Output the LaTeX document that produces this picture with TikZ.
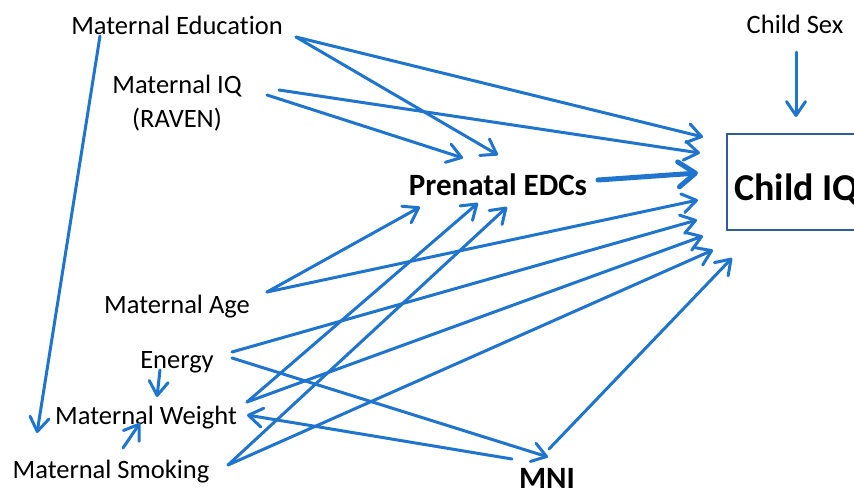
\documentclass[tikz,border=0pt]{standalone}
\usepackage{fontspec}
\setmainfont{Carlito}[Ligatures=NoCommon]
\usetikzlibrary{arrows.meta}
\definecolor{arrowblue}{RGB}{31,116,206}
\definecolor{boxblue}{RGB}{46,92,154}
\begin{document}
\begin{tikzpicture}[x=1pt,y=-1pt,
  lbl/.style={inner sep=0pt,anchor=base,font=\fontsize{26.5}{34}\selectfont},
  blbl/.style={inner sep=0pt,anchor=base,font=\fontsize{31}{34}\selectfont\bfseries},
  conn/.style={draw=arrowblue,line width=3pt,line cap=round,
    -{Straight Barb[length=14pt,width=19pt,line cap=round,line join=round]}},
  thick conn/.style={draw=arrowblue,line width=5pt,line cap=round,
    -{Straight Barb[length=17pt,width=25pt,line cap=round,line join=round]}}]
\useasboundingbox (0,0) rectangle (854,488);
% nodes
\node[lbl] (edu) at (177,34) {Maternal Education};
\node[lbl] (iq) at (177,93) {Maternal IQ};
\node[lbl] (raven) at (177,127) {(RAVEN)};
\node[lbl] (sex) at (795,33) {Child Sex};
\node[blbl] (edc) at (498,195) {Prenatal EDCs};
\draw[boxblue,line width=1.5pt] (727,134) rectangle (870,230);
\node[inner sep=0pt,anchor=base west,font=\fontsize{38}{40}\selectfont\bfseries] (ciq) at (734,200) {Child IQ};
\node[lbl] (age) at (177,313) {Maternal Age};
\node[lbl] (energy) at (177,368) {Energy};
\node[lbl] (weight) at (146,424) {Maternal Weight};
\node[lbl] (smoke) at (111,478) {Maternal Smoking};
\node[blbl] (mni) at (547,488) {MNI};
% connector end points
\coordinate (eduA) at (296,37);
\coordinate (eduB) at (100,36);
\coordinate (iqA) at (279,90);
\coordinate (iqB) at (267,95);
\coordinate (edcA) at (598,180);
\coordinate (ageA) at (267,292);
\coordinate (enA) at (232,352);
\coordinate (enB) at (232,358);
\coordinate (enC) at (160,370);
\coordinate (wtA) at (247,402);
\coordinate (wtIn) at (247,415);
\coordinate (smA) at (228,465);
\coordinate (smB) at (123,448);
\coordinate (mniA) at (512,459);
\coordinate (mniB) at (549,449);
\coordinate (mniIn) at (548,457);
\coordinate (sexA) at (796,52);
% targets
\coordinate (ciq1) at (703,137);
\coordinate (ciq2) at (700,153);
\coordinate (ciq3) at (698,173);
\coordinate (ciq4) at (698,200);
\coordinate (ciq5) at (697,220);
\coordinate (ciq6) at (703,236);
\coordinate (ciq7) at (713,250);
\coordinate (ciq8) at (732,258);
\coordinate (ciqTop) at (796,117);
\coordinate (edc1) at (463,158);
\coordinate (edc2) at (498,155);
\coordinate (edc3) at (420,207);
\coordinate (edc4) at (478,203);
\coordinate (edc5) at (507,207);
\coordinate (smIn) at (37,433);
\coordinate (wtTop) at (157,397);
\coordinate (wtBot) at (140,423);
% connectors
\draw[conn] (eduA) -- (ciq1);
\draw[conn] (eduA) -- (edc2);
\draw[conn] (eduB) -- (smIn);
\draw[conn] (iqA) -- (ciq2);
\draw[conn] (iqB) -- (edc1);
\draw[thick conn] (edcA) -- (ciq3);
\draw[conn] (ageA) -- (edc3);
\draw[conn] (ageA) -- (ciq4);
\draw[conn] (enA) -- (ciq5);
\draw[conn] (enB) -- (mniIn);
\draw[conn] (enC) -- (wtTop);
\draw[conn] (wtA) -- (edc4);
\draw[conn] (wtA) -- (ciq6);
\draw[conn] (smA) -- (edc5);
\draw[conn] (smA) -- (ciq7);
\draw[conn] (smB) -- (wtBot);
\draw[conn] (mniA) -- (wtIn);
\draw[conn] (mniB) -- (ciq8);
\draw[conn] (sexA) -- (ciqTop);
\end{tikzpicture}
\end{document}
